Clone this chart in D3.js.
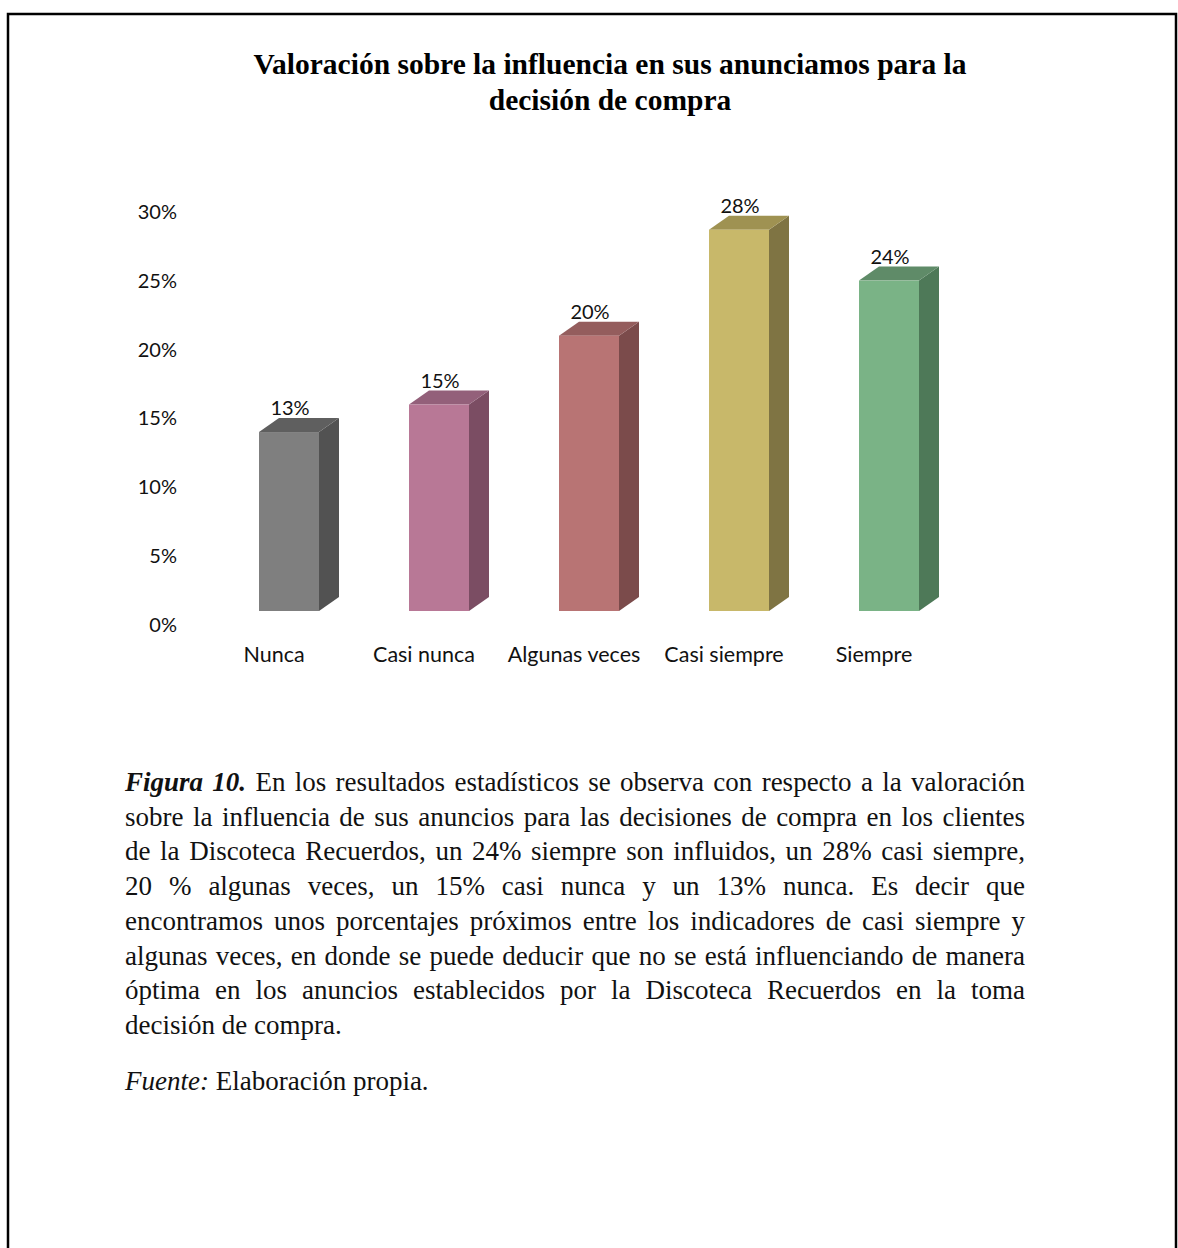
<!DOCTYPE html>
<html>
<head>
<meta charset="utf-8">
<script src="https://cdn.jsdelivr.net/npm/d3@7"></script>
<style>
  html, body { margin: 0; padding: 0; background: #fff; }
  #page { position: relative; width: 1178px; height: 1248px; overflow: hidden; }
  .para { position: absolute; left: 125px; font-family: "Liberation Serif", "Times New Roman", serif; font-size: 27px; color: #111; white-space: nowrap; }
</style>
</head>
<body>
<div id="page"></div>
<script>
// chart data
var categories = ["Nunca", "Casi nunca", "Algunas veces", "Casi siempre", "Siempre"];
var values = [13, 15, 20, 27.7, 24];
var tickValues = [0, 5, 10, 15, 20, 25, 30];
var frontColors = ["#7f7f7f", "#b87896", "#b87474", "#c8b86a", "#7ab386"];
var sideColors = ["#525252", "#7b4d63", "#7b4b4b", "#7f7443", "#4e7958"];
var topColors = ["#5f5f5f", "#93607a", "#945d5d", "#9f9252", "#5f8b68"];

var titleLines = ["Valoración sobre la influencia en sus anunciamos para la", "decisión de compra"];
var captionLines = [
  "En los resultados estadísticos se observa con respecto a la valoración",
  "sobre la influencia de sus anuncios para las decisiones de compra en los clientes",
  "de la Discoteca Recuerdos, un 24% siempre son influidos, un 28% casi siempre,",
  "20 % algunas veces, un 15% casi nunca y un 13% nunca. Es decir que",
  "encontramos unos porcentajes próximos entre los indicadores de casi siempre y",
  "algunas veces, en donde se puede deducir que no se está influenciando de manera",
  "óptima en los anuncios establecidos por la Discoteca Recuerdos en la toma",
  "decisión de compra."
];

var width = 1178, height = 1248;
var page = d3.select("#page");

var svg = page.append("svg")
  .attr("width", width)
  .attr("height", height)
  .style("position", "absolute")
  .style("left", 0).style("top", 0);

// page frame
svg.append("rect")
  .attr("x", 8).attr("y", 14)
  .attr("width", 1168).attr("height", 1300)
  .attr("fill", "none")
  .attr("stroke", "#000")
  .attr("stroke-width", 2.5);

// title
svg.selectAll("text.title").data(titleLines).enter().append("text")
  .attr("class", "title")
  .attr("x", 610)
  .attr("y", function(d, i) { return 74 + i * 36; })
  .attr("text-anchor", "middle")
  .style("font-family", "'Liberation Serif', 'Times New Roman', serif")
  .style("font-weight", "bold")
  .style("font-size", "29.5px")
  .text(function(d) { return d; });

// scales
var yScale = d3.scaleLinear().domain([0, 30]).range([611, 198]);
var xScale = d3.scaleBand().domain(categories).range([199, 949]).padding(0);
var depthX = 20, depthY = 14, barW = 60;

var labelFont = "Lato, 'Open Sans', sans-serif";

// y axis labels (no line)
var yAxis = d3.axisLeft(yScale)
  .tickValues(tickValues)
  .tickSize(0)
  .tickPadding(0)
  .tickFormat(function(d) { return d + "%"; });

var yG = svg.append("g")
  .attr("transform", "translate(177," + depthY + ")")
  .call(yAxis);
yG.select(".domain").remove();
yG.selectAll("text")
  .style("font-family", labelFont)
  .style("font-size", "20px")
  .attr("fill", "#111");

// x axis labels
var xAxis = d3.axisBottom(xScale).tickSize(0).tickPadding(0);
var xG = svg.append("g")
  .attr("transform", "translate(0,647)")
  .call(xAxis);
xG.select(".domain").remove();
xG.selectAll("text")
  .style("font-family", labelFont)
  .style("font-size", "21.5px")
  .attr("fill", "#111");

// 3d bars
var bars = svg.selectAll("g.bar").data(values).enter().append("g").attr("class", "bar");

function x0(i) { return xScale(categories[i]) + xScale.bandwidth() / 2 - 15; }

bars.append("path")
  .attr("fill", function(d, i) { return sideColors[i]; })
  .attr("d", function(d, i) {
    var x1 = x0(i) + barW, yt = yScale(d), yb = yScale(0);
    return "M" + x1 + "," + yt + "L" + (x1 + depthX) + "," + (yt - depthY) +
      "L" + (x1 + depthX) + "," + (yb - depthY) + "L" + x1 + "," + yb + "Z";
  });

bars.append("path")
  .attr("fill", function(d, i) { return topColors[i]; })
  .attr("d", function(d, i) {
    var xa = x0(i), yt = yScale(d);
    return "M" + xa + "," + yt + "L" + (xa + depthX) + "," + (yt - depthY) +
      "L" + (xa + barW + depthX) + "," + (yt - depthY) + "L" + (xa + barW) + "," + yt + "Z";
  });

bars.append("rect")
  .attr("x", function(d, i) { return x0(i); })
  .attr("y", function(d) { return yScale(d); })
  .attr("width", barW)
  .attr("height", function(d) { return yScale(0) - yScale(d); })
  .attr("fill", function(d, i) { return frontColors[i]; });

bars.append("text")
  .attr("x", function(d, i) { return x0(i) + barW / 2 + 1; })
  .attr("y", function(d) { return yScale(d) - depthY - 3; })
  .attr("text-anchor", "middle")
  .style("font-family", labelFont)
  .style("font-size", "20px")
  .attr("fill", "#111")
  .text(function(d) { return d3.format(".0f")(d) + "%"; });

// caption paragraph, each line justified to 900px by word spacing
var lineWidth = 900;
captionLines.forEach(function(line, i) {
  var div = page.append("div")
    .attr("class", "para")
    .style("top", (767 + i * 34.7) + "px");
  var text = line;
  if (i === 0) {
    div.append("b").append("i").text("Figura 10.");
    text = " " + line;
  }
  div.append("span").text(text);
  if (i < captionLines.length - 1) {
    var full = (i === 0 ? "Figura 10." : "") + text;
    var gaps = (full.match(/ /g) || []).length;
    var w = div.node().getBoundingClientRect().width;
    div.style("word-spacing", ((lineWidth - w) / gaps) + "px");
  }
});

var fuente = page.append("div")
  .attr("class", "para")
  .style("top", "1066px");
fuente.append("i").text("Fuente:");
fuente.append("span").text(" Elaboración propia.");
</script>
</body>
</html>
